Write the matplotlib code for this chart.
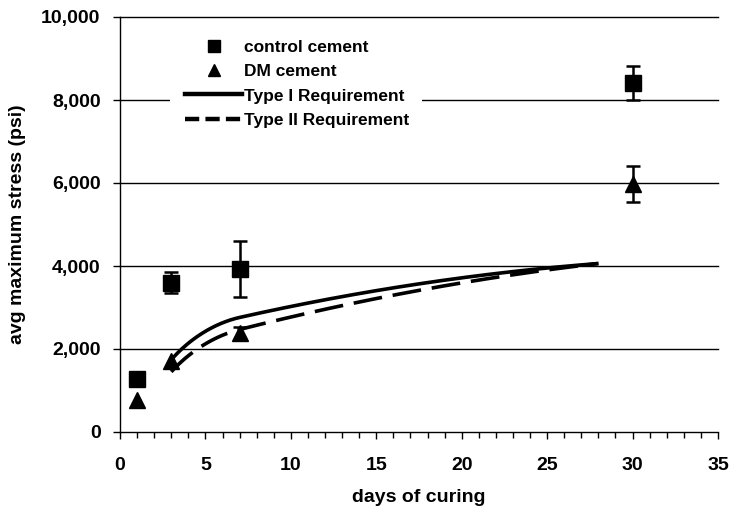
import numpy as np
import matplotlib
matplotlib.use("Agg")
import matplotlib.pyplot as plt
from matplotlib.lines import Line2D
from matplotlib.patches import Rectangle
from matplotlib.ticker import MultipleLocator, FuncFormatter

plt.rcParams['font.family'] = ['Liberation Sans', 'DejaVu Sans']
plt.rcParams['font.weight'] = 'bold'

# measured strengths (psi)
ctrl_days = [1, 3, 7, 30]
ctrl_mean = [1270, 3600, 3930, 8410]
ctrl_err = [0, 250, 680, 400]

dm_days = [1, 3, 7, 30]
dm_mean = [780, 1700, 2380, 5980]
dm_err = [0, 0, 160, 440]

# ASTM C150 minimum requirements
req_days = [3, 7, 28]
type1_req = [1740, 2760, 4060]
type2_req = [1450, 2470, 4060]


def smooth_line(xs, ys, sx, sy, n=80):
    # spreadsheet-style smoothed line: cubic Bezier per segment, done in pixel space
    P = np.column_stack([np.asarray(xs, float) * sx, np.asarray(ys, float) * sy])
    k = len(P)
    unit = lambda v: v / np.linalg.norm(v)
    tang = [None] * k
    for i in range(1, k - 1):
        tang[i] = unit(P[i + 1] - P[i - 1])
    tang[0] = unit(2 * unit(P[1] - P[0]) - tang[1])
    tang[-1] = unit(2 * unit(P[-1] - P[-2]) - tang[-2])
    out = []
    t = np.linspace(0, 1, n)[:, None]
    for i in range(k - 1):
        p1, p2 = P[i], P[i + 1]
        L = np.linalg.norm(p2 - p1) / 3.0
        c1 = p1 + tang[i] * L
        c2 = p2 - tang[i + 1] * L
        seg = (1 - t) ** 3 * p1 + 3 * (1 - t) ** 2 * t * c1 + 3 * (1 - t) * t ** 2 * c2 + t ** 3 * p2
        out.append(seg)
    out = np.vstack(out)
    return out[:, 0] / sx, out[:, 1] / sy


fig = plt.figure(figsize=(7.37, 5.12), dpi=100)
ax = fig.add_axes([120 / 737, 80 / 512, 598 / 737, 415 / 512])

sx, sy = 598 / 35.0, 415 / 10000.0
x1, y1 = smooth_line(req_days, type1_req, sx, sy)
x2, y2 = smooth_line(req_days, type2_req, sx, sy)

for yv in range(2000, 10001, 2000):
    ax.axhline(yv, color='black', lw=1.0, zorder=1, clip_on=False)

ax.plot(x1, y1, color='black', lw=2.6, solid_capstyle='butt', zorder=3)
ax.plot(x2, y2, color='black', lw=2.6, dashes=(8, 3), zorder=3)

ax.plot(ctrl_days, ctrl_mean, 's', color='black', ms=11, zorder=4)
ax.plot(dm_days, dm_mean, '^', color='black', ms=11, zorder=4)
for days, mean, err in [(ctrl_days, ctrl_mean, ctrl_err), (dm_days, dm_mean, dm_err)]:
    d = [a for a, e in zip(days, err) if e > 0]
    m = [b for b, e in zip(mean, err) if e > 0]
    e = [c for c in err if c > 0]
    ax.errorbar(d, m, yerr=e, fmt='none', ecolor='black', elinewidth=1.8,
                capsize=5, capthick=1.8, zorder=4)

ax.set_xlim(0, 35)
ax.set_ylim(0, 10000)
ax.xaxis.set_major_locator(MultipleLocator(5))
ax.xaxis.set_minor_locator(MultipleLocator(1))
ax.yaxis.set_major_locator(MultipleLocator(2000))
ax.yaxis.set_major_formatter(FuncFormatter(lambda v, p: f"{int(v):,}"))
ax.tick_params(axis='both', which='major', direction='out', length=5, width=1,
               labelsize=14, color='black')
ax.tick_params(axis='x', which='major', pad=13)
ax.tick_params(axis='y', which='major', pad=9)
ax.tick_params(axis='x', which='minor', direction='out', length=4, width=1)
for lab in ax.get_xticklabels() + ax.get_yticklabels():
    lab.set_fontweight('bold')

for s in ['top', 'right']:
    ax.spines[s].set_visible(False)
for s in ['left', 'bottom']:
    ax.spines[s].set_linewidth(1.0)

ax.set_xlabel('days of curing', fontsize=14, fontweight='bold', labelpad=11)
ax.set_ylabel('avg maximum stress (psi)', fontsize=14, fontweight='bold', labelpad=11)

# white patch behind the legend, hiding the grid line
fig.patches.append(Rectangle((170 / 737, 1 - 134 / 512), 252 / 737, 98 / 512,
                             transform=fig.transFigure, facecolor='white',
                             edgecolor='none', zorder=2))

handles = [
    Line2D([], [], ls='none', marker='s', color='black', ms=8),
    Line2D([], [], ls='none', marker='^', color='black', ms=8),
    Line2D([], [], color='black', lw=3.2),
    Line2D([], [], color='black', lw=3.2, dashes=(3.2, 1.4)),
]
labels = ['control cement', 'DM cement', 'Type I Requirement', 'Type II Requirement']
leg = fig.legend(handles, labels, loc='upper left',
                 bbox_to_anchor=(185 / 737, 1 - 40 / 512), frameon=False,
                 prop={'weight': 'bold', 'size': 12.5},
                 handlelength=3.3, handletextpad=0.12, labelspacing=0.52,
                 borderpad=0, borderaxespad=0)
leg.set_zorder(3)

fig.savefig('out.png', dpi=100)
